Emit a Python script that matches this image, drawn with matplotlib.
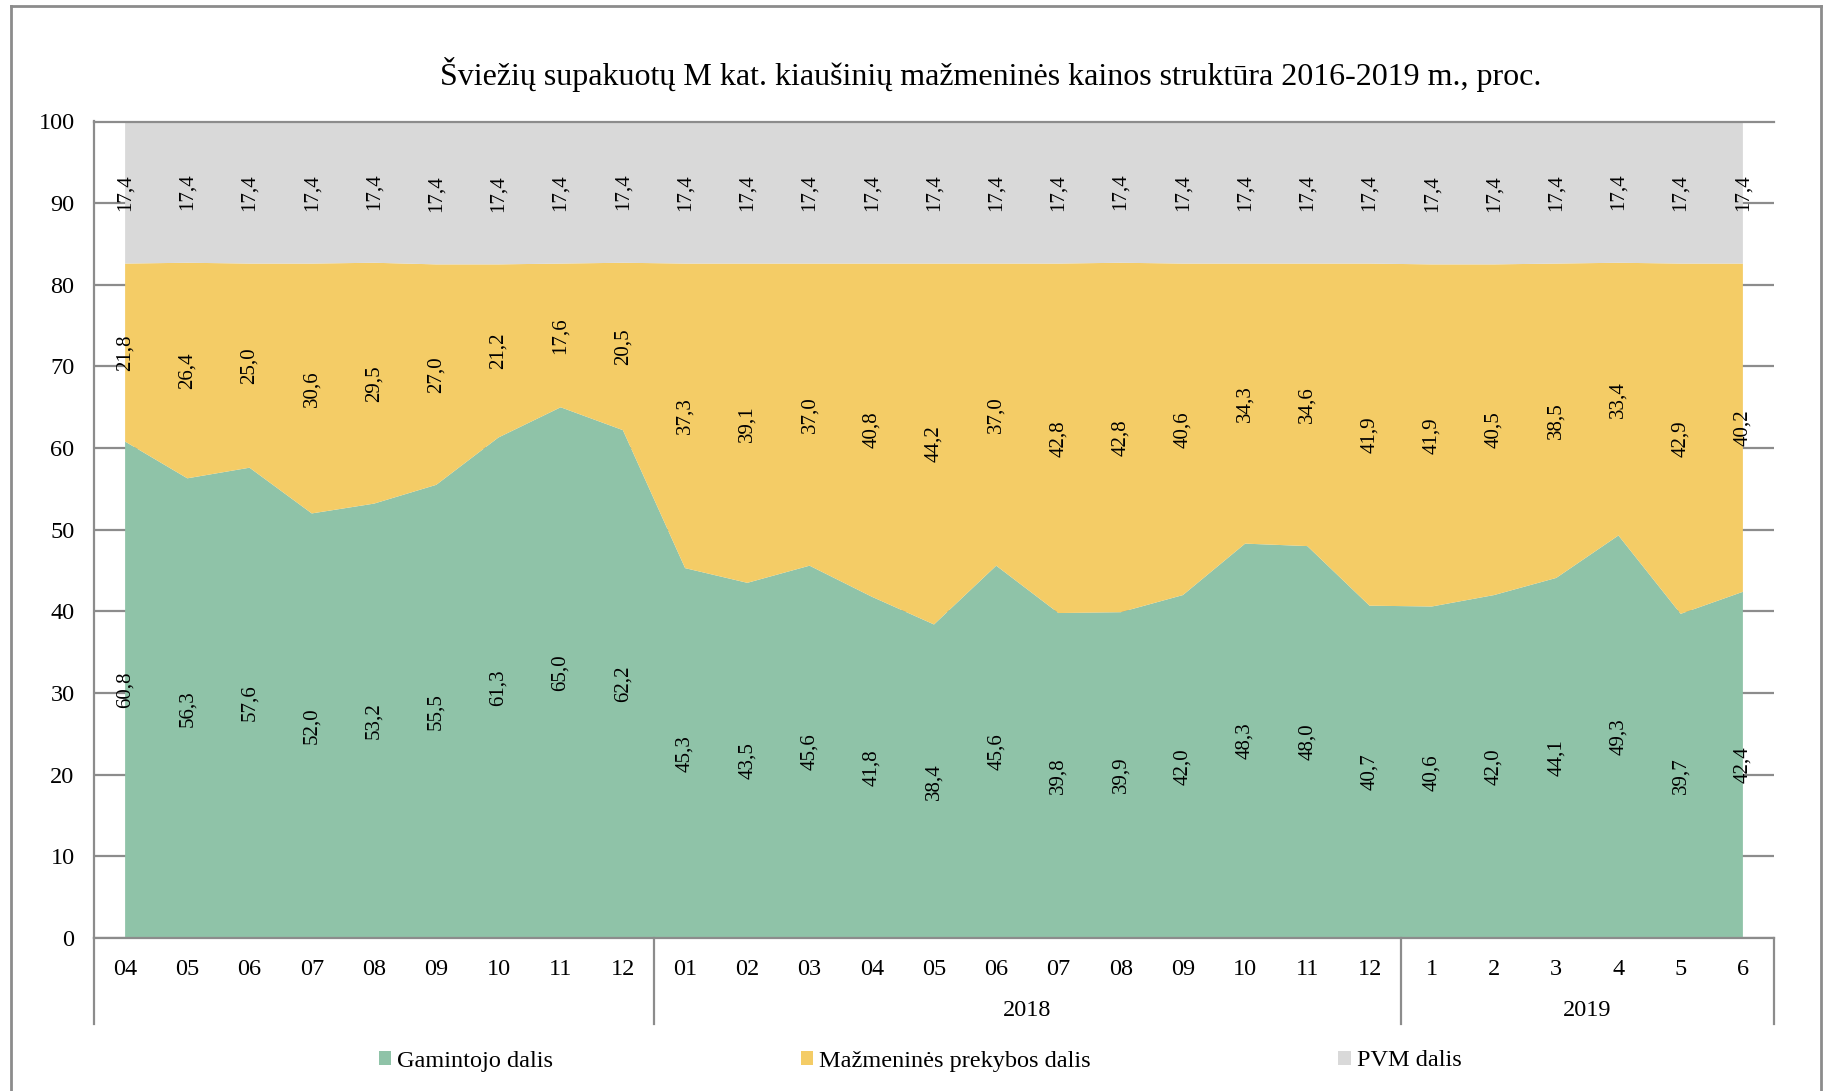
import numpy as np
import matplotlib
matplotlib.use('Agg')
import matplotlib.pyplot as plt
from matplotlib.patches import Patch
from matplotlib.lines import Line2D

plt.rcParams['font.family'] = ['Liberation Serif', 'DejaVu Serif']

# data
title = "Šviežių supakuotų M kat. kiaušinių mažmeninės kainos struktūra 2016-2019 m., proc."
years = ['', '2018', '2019']
months_by_year = [
    ['04', '05', '06', '07', '08', '09', '10', '11', '12'],
    ['01', '02', '03', '04', '05', '06', '07', '08', '09', '10', '11', '12'],
    ['1', '2', '3', '4', '5', '6'],
]
series_names = ['Gamintojo dalis', 'Mažmeninės prekybos dalis', 'PVM dalis']
gamintojo = [60.8, 56.3, 57.6, 52.0, 53.2, 55.5, 61.3, 65.0, 62.2,
             45.3, 43.5, 45.6, 41.8, 38.4, 45.6, 39.8, 39.9, 42.0, 48.3, 48.0, 40.7,
             40.6, 42.0, 44.1, 49.3, 39.7, 42.4]
prekybos = [21.8, 26.4, 25.0, 30.6, 29.5, 27.0, 21.2, 17.6, 20.5,
            37.3, 39.1, 37.0, 40.8, 44.2, 37.0, 42.8, 42.8, 40.6, 34.3, 34.6, 41.9,
            41.9, 40.5, 38.5, 33.4, 42.9, 40.2]
pvm = [17.4] * 27

colors = ['#8FC3A8', '#F4CC66', '#D9D9D9']
grey = '#8C8C8C'
fs = 17.5

W, H = 1825, 1091
fig = plt.figure(figsize=(W / 100, H / 100), dpi=100)
ax = fig.add_axes([94 / W, (H - 938) / H, (1774 - 94) / W, (938 - 121.5) / H])

month_labels = [m for grp in months_by_year for m in grp]
x = np.arange(len(month_labels))
series = [gamintojo, prekybos, pvm]
ax.stackplot(x, *series, colors=colors, linewidth=0)

# value labels in the middle of each band
bottom = np.zeros(len(x))
for vals in series:
    vals = np.array(vals)
    for xi, b, v in zip(x, bottom, vals):
        ax.text(xi, b + v / 2, f"{v:.1f}".replace('.', ','), rotation=90,
                ha='center', va='center', fontsize=15, color='black')
    bottom = bottom + vals

ax.set_xlim(-0.5, len(x) - 0.5)
ax.set_ylim(0, 100)
ax.set_yticks(np.arange(0, 101, 10))
ax.yaxis.grid(True, color=grey, lw=1.6)
ax.set_axisbelow(True)
ax.spines['right'].set_visible(False)
for s in ['left', 'bottom', 'top']:
    ax.spines[s].set_color(grey)
    ax.spines[s].set_linewidth(1.6)
ax.tick_params(axis='y', length=0, labelsize=fs, pad=14)
ax.set_xticks(x)
ax.set_xticklabels(month_labels)
ax.tick_params(axis='x', length=0, labelsize=fs, pad=15)

# year groups: separators and labels
start = -0.5
ax.axvline(start, ymin=-0.105, ymax=0, color=grey, lw=1.6, clip_on=False)
for yr, grp in zip(years, months_by_year):
    end = start + len(grp)
    ax.axvline(end, ymin=-0.105, ymax=0, color=grey, lw=1.6, clip_on=False)
    ax.text((start + end) / 2, -0.089, yr, transform=ax.get_xaxis_transform(),
            ha='center', va='center', fontsize=fs)
    start = end

fig.text(991 / W, 1 - 74.5 / H, title, ha='center', va='center', fontsize=23)

handles = [Patch(facecolor=c, edgecolor='none') for c in colors]
fig.legend(handles, series_names, loc='center', bbox_to_anchor=(920 / W, 1 - 1061 / H),
           ncol=3, frameon=False, fontsize=fs, handlelength=0.5, handleheight=0.5,
           handletextpad=0.25, columnspacing=10.2)

# chart border
for xs, ys in [([11, 11], [H, 6]), ([11, 1821], [6, 6]), ([1821, 1821], [6, H])]:
    fig.add_artist(Line2D([v / W for v in xs], [1 - v / H for v in ys], color=grey, lw=2))

fig.savefig('out.png', dpi=100)
